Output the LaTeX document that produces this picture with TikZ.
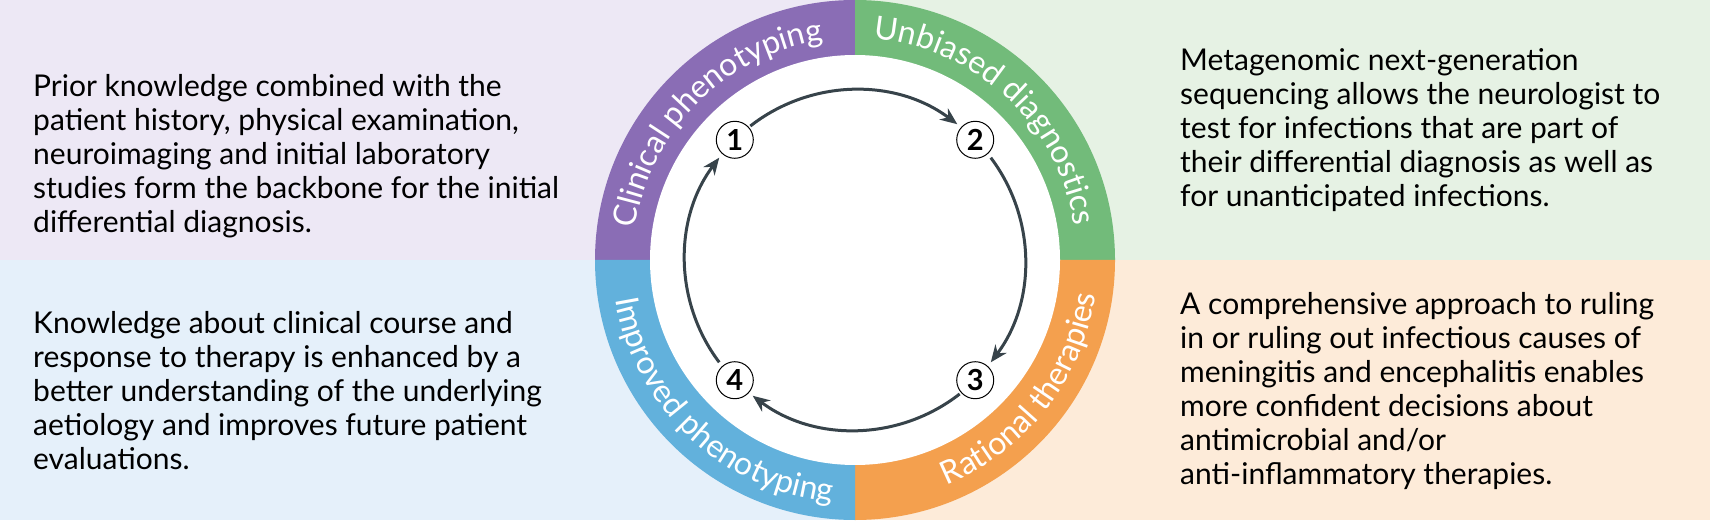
\documentclass[tikz,border=0pt]{standalone}
\usepackage{fontspec}
\setmainfont{Lato}
\usetikzlibrary{decorations.text,arrows.meta}
\definecolor{cpur}{HTML}{8A6DB5}
\definecolor{cgre}{HTML}{72BB7A}
\definecolor{cblu}{HTML}{62B1DC}
\definecolor{cora}{HTML}{F4A04E}
\definecolor{bpur}{HTML}{EDE8F5}
\definecolor{bgre}{HTML}{E6F2E4}
\definecolor{bblu}{HTML}{E5F0FA}
\definecolor{bora}{HTML}{FDEBD9}
\definecolor{arr}{HTML}{37434A}
\tikzset{
  body/.style={anchor=north west,inner sep=0pt,align=left,font=\fontsize{30}{34}\selectfont,text=black},
  num/.style={circle,draw=black,line width=1pt,fill=white,minimum size=37pt,inner sep=0pt,font=\bfseries\fontsize{29}{29}\selectfont},
  cyc/.style={draw=arr,line width=3pt,-{Stealth[length=17pt,width=14pt]}},
  ringtxt/.style={decorate,decoration={text along path,text align=center,text={|\color{white}\fontsize{32}{32}\selectfont|#1}}}
}
\begin{document}
\begin{tikzpicture}[x=1pt,y=1pt]
\useasboundingbox (0,0) rectangle (1710,520);
\fill[bpur] (0,260) rectangle (855,520);
\fill[bgre] (855,260) rectangle (1710,520);
\fill[bblu] (0,0) rectangle (855,260);
\fill[bora] (855,0) rectangle (1710,260);
\coordinate (c) at (855,260);
\fill[cpur] (c) -- ++(180:260) arc (180:90:260) -- cycle;
\fill[cgre] (c) -- ++(90:260) arc (90:0:260) -- cycle;
\fill[cora] (c) -- ++(0:260) arc (0:-90:260) -- cycle;
\fill[cblu] (c) -- ++(270:260) arc (270:180:260) -- cycle;
\fill[white] (c) circle (205);
% ring labels
\path[ringtxt={Clinical phenotyping}] ([shift={(195:222)}]c) arc (195:75:222);
\path[ringtxt={Unbiased diagnostics}] ([shift={(107:222)}]c) arc (107:-13:222);
\path[ringtxt={Rational therapies}] ([shift={(-98:243)}]c) arc (-98:22:243);
\path[ringtxt={Improved phenotyping}] ([shift={(167:243)}]c) arc (167:287:243);
% numbered nodes
\node[num] (n1) at ([shift={(135:170)}]c) {1};
\node[num] (n2) at ([shift={(45:170)}]c) {2};
\node[num] (n3) at ([shift={(-45:170)}]c) {3};
\node[num] (n4) at ([shift={(-135:170)}]c) {4};
\draw[cyc] ([shift={(128:170)}]c) arc (128:53:170);
\draw[cyc] ([shift={(37:170)}]c) arc (37:-37:170);
\draw[cyc] ([shift={(-52:170)}]c) arc (-52:-127:170);
\draw[cyc] ([shift={(-143:170)}]c) arc (-143:-217:170);
% texts
\node[body] (t1) at (33,446) {Prior knowledge combined with the\\patient history, physical examination,\\neuroimaging and initial laboratory\\studies form the backbone for the initial\\differential diagnosis.};
\node[body] (t2) at (1180,472) {Metagenomic next-generation\\sequencing allows the neurologist to\\test for infections that are part of\\their differential diagnosis as well as\\for unanticipated infections.};
\node[body] (t3) at (33,209) {Knowledge about clinical course and\\response to therapy is enhanced by a\\better understanding of the underlying\\aetiology and improves future patient\\evaluations.};
\node[body] (t4) at (1180,228) {A comprehensive approach to ruling\\in or ruling out infectious causes of\\meningitis and encephalitis enables\\more confident decisions about\\antimicrobial and/or\\anti-inflammatory therapies.};
\end{tikzpicture}
\end{document}
